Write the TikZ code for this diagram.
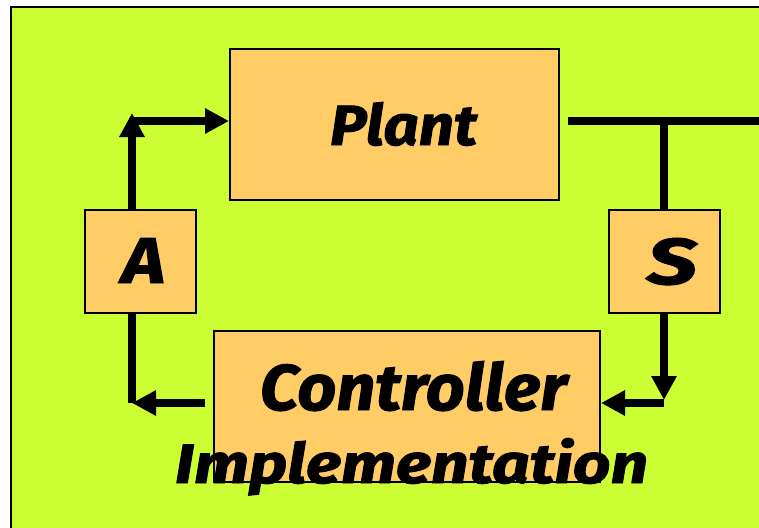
\documentclass[tikz,border=0pt]{standalone}
\usepackage{fontspec}
\usepackage{graphicx}
\newfontfamily\cf[BoldItalicFeatures={FakeBold=1.5}]{Fira Sans}
\usetikzlibrary{arrows.meta,calc}
\definecolor{bggreen}{HTML}{CCFF33}
\definecolor{boxorange}{HTML}{FFCC66}
\tikzset{
  blk/.style={draw=black, line width=2pt, fill=boxorange, inner sep=0pt},
  conn/.style={line width=7.5pt, draw=black},
  tip/.style={-{Triangle[length=24pt 0 0,width=24pt 0 0]}},
  lbl/.style={inner sep=0pt, outer sep=0pt, anchor=base, font=\cf\bfseries\itshape}
}
\begin{document}
\begin{tikzpicture}[x=1pt,y=-1pt]
\useasboundingbox (0,0) rectangle (759,527);
\path[fill=bggreen, draw=black, line width=2pt] (11,7) rectangle (780,560);
% boxes
\node[blk, minimum width=329pt, minimum height=151pt] (plant) at (394.5,124.5) {};
\node[blk, minimum width=111pt, minimum height=103pt] (act) at (140.5,261.5) {};
\node[blk, minimum width=111pt, minimum height=103pt] (sens) at (664.5,261.5) {};
\node[blk, minimum width=386pt, minimum height=151pt] (ctrl) at (407,406.5) {};
% corner coordinates
\coordinate (tl) at (132,121);
\coordinate (bl) at (132,403);
\coordinate (tr) at (664,121);
\coordinate (br) at (664,403);
\coordinate (out) at (770,121);
% connectors
\draw[conn,tip,shorten >=-8pt] (act.north -| tl) -- (tl);
\draw[conn,tip] (tl) -- (plant.west |- tl);
\draw[conn] ($(plant.east |- tr)+(8,0)$) -- (out);
\draw[conn] (tr) -- (sens.north -| tr);
\draw[conn,tip,shorten >=3pt] (sens.south -| br) -- (br);
\draw[conn,tip] (br) -- (ctrl.east |- br);
\draw[conn,tip] ($(ctrl.west |- bl)+(-8,0)$) -- (bl);
\draw[conn] (act.south -| bl) -- (bl);
% labels
\node[lbl] (tplant) at (403.5,145) {\resizebox{147pt}{43pt}{Plant}};
\node[lbl] (tact) at (143.5,283) {\resizebox{43pt}{45pt}{A}};
\node[lbl] (tsens) at (672,284) {\resizebox{50pt}{46pt}{S}};
\node[lbl] (tctrl) at (413.5,410) {\resizebox{307pt}{49pt}{Controller}};
\node[lbl] (timpl) at (411.5,483) {\resizebox{473pt}{45pt}{Implementation}};
\end{tikzpicture}
\end{document}
